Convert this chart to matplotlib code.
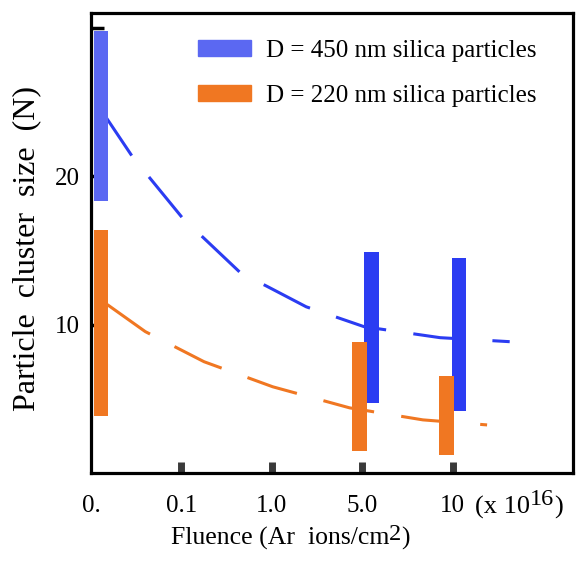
import numpy as np
import matplotlib
matplotlib.use("Agg")
import matplotlib.pyplot as plt
from matplotlib.patches import Patch

plt.rcParams['font.family'] = ['Liberation Serif', 'DejaVu Serif']

# ---- data ----
tick_labels = ["0.", "0.1", "1.0", "5.0", "10"]
bar_cats = [0, 3, 4]                      # category index: 0., 5.0, 10
blue_low = [18.3, 4.7, 4.2]
blue_high = [29.8, 14.9, 14.5]
orange_low = [3.85, 1.5, 1.2]
orange_high = [16.4, 8.8, 6.55]

# fitted trend curves (x in category units)
blue_curve_x = [0.13, 0.46, 1.01, 1.66, 1.94, 2.38, 3.02, 3.86, 4.63]
blue_curve_y = [24.3, 21.3, 17.2, 13.45, 12.6, 11.2, 9.86, 9.12, 8.85]
orange_curve_x = [0.18, 0.60, 1.25, 2.01, 2.86, 3.67, 4.38]
orange_curve_y = [11.35, 9.53, 7.5, 5.81, 4.39, 3.58, 3.24]

labels = ["D = 450 nm silica particles", "D = 220 nm silica particles"]

# ---- style ----
blue_light = "#5b68f2"
blue_dark = "#2b3cf2"
orange = "#f07722"
blue_offsets = [0.11, 0.10, 0.07]
orange_offsets = [0.11, -0.03, -0.07]
bar_w = 0.16

fig = plt.figure(figsize=(5.77, 5.64), dpi=100)
ax = fig.add_axes([91/577, 1-473/564, (573-91)/577, (473-13)/564])

bx = np.array(bar_cats) + np.array(blue_offsets)
ox = np.array(bar_cats) + np.array(orange_offsets)
blue_cols = [blue_light, blue_dark, blue_dark]
ax.bar(bx, np.array(blue_high) - np.array(blue_low), bottom=blue_low,
       width=bar_w, color=blue_cols, zorder=3)
ax.bar(ox, np.array(orange_high) - np.array(orange_low), bottom=orange_low,
       width=bar_w, color=orange, zorder=3)

lw = 2.2
ax.plot(blue_curve_x, blue_curve_y, color=blue_dark, lw=lw,
        dashes=(17, 9), zorder=2)
ax.plot(orange_curve_x, orange_curve_y, color=orange, lw=lw,
        dashes=(17, 9), zorder=2)

ax.set_xlim(0, 5.33)
ax.set_ylim(0, 31)

ax.set_xticks(range(len(tick_labels)))
ax.set_xticklabels(tick_labels, fontsize=18)
ax.tick_params(axis='x', direction='in', length=8, width=5, color='#3a3a3a', pad=16)
ax.xaxis.get_major_ticks()[0].tick1line.set_visible(False)

ax.set_yticks([10, 20, 30])
ax.set_yticklabels(["10", "20", ""], fontsize=18)
ax.tick_params(axis='y', direction='in', length=9, width=2.5, color='black', pad=8)

for s in ax.spines.values():
    s.set_linewidth(2.3)

ax.set_ylabel("Particle  cluster  size  (N)", fontsize=23)
ax.yaxis.set_label_coords(-0.104, 0.488)

# x label with a full-size raised "2"
t1 = fig.text(171/577, 1-545/564, "Fluence (Ar  ions/cm", fontsize=18.5,
              ha='left', va='baseline')
t2 = ax.annotate("2", xy=(1, 0), xycoords=t1, xytext=(0, 4),
                 textcoords='offset points', fontsize=17.5, ha='left', va='bottom',
                 annotation_clip=False)
ax.annotate(")", xy=(1, 0), xycoords=t2, xytext=(0, -4),
            textcoords='offset points', fontsize=18.5, ha='left', va='bottom',
            annotation_clip=False)

# multiplier next to last tick
m1 = fig.text(475/577, 1-514/564, "(x 10", fontsize=19, ha='left', va='baseline')
m2 = ax.annotate("16", xy=(1, 0), xycoords=m1, xytext=(0, 7),
                 textcoords='offset points', fontsize=17.5, ha='left', va='bottom',
                 annotation_clip=False)
ax.annotate(")", xy=(1, 0), xycoords=m2, xytext=(0, -7),
            textcoords='offset points', fontsize=19, ha='left', va='bottom',
            annotation_clip=False)

handles = [Patch(color=blue_light), Patch(color=orange)]
ax.legend(handles, labels, loc='upper left',
          bbox_to_anchor=(198/577, 1-40/564), bbox_transform=fig.transFigure,
          frameon=False, fontsize=18, handlelength=2.1, handleheight=0.6,
          handletextpad=0.6, labelspacing=0.92, borderpad=0, borderaxespad=0)

fig.savefig("out.png", dpi=100)
